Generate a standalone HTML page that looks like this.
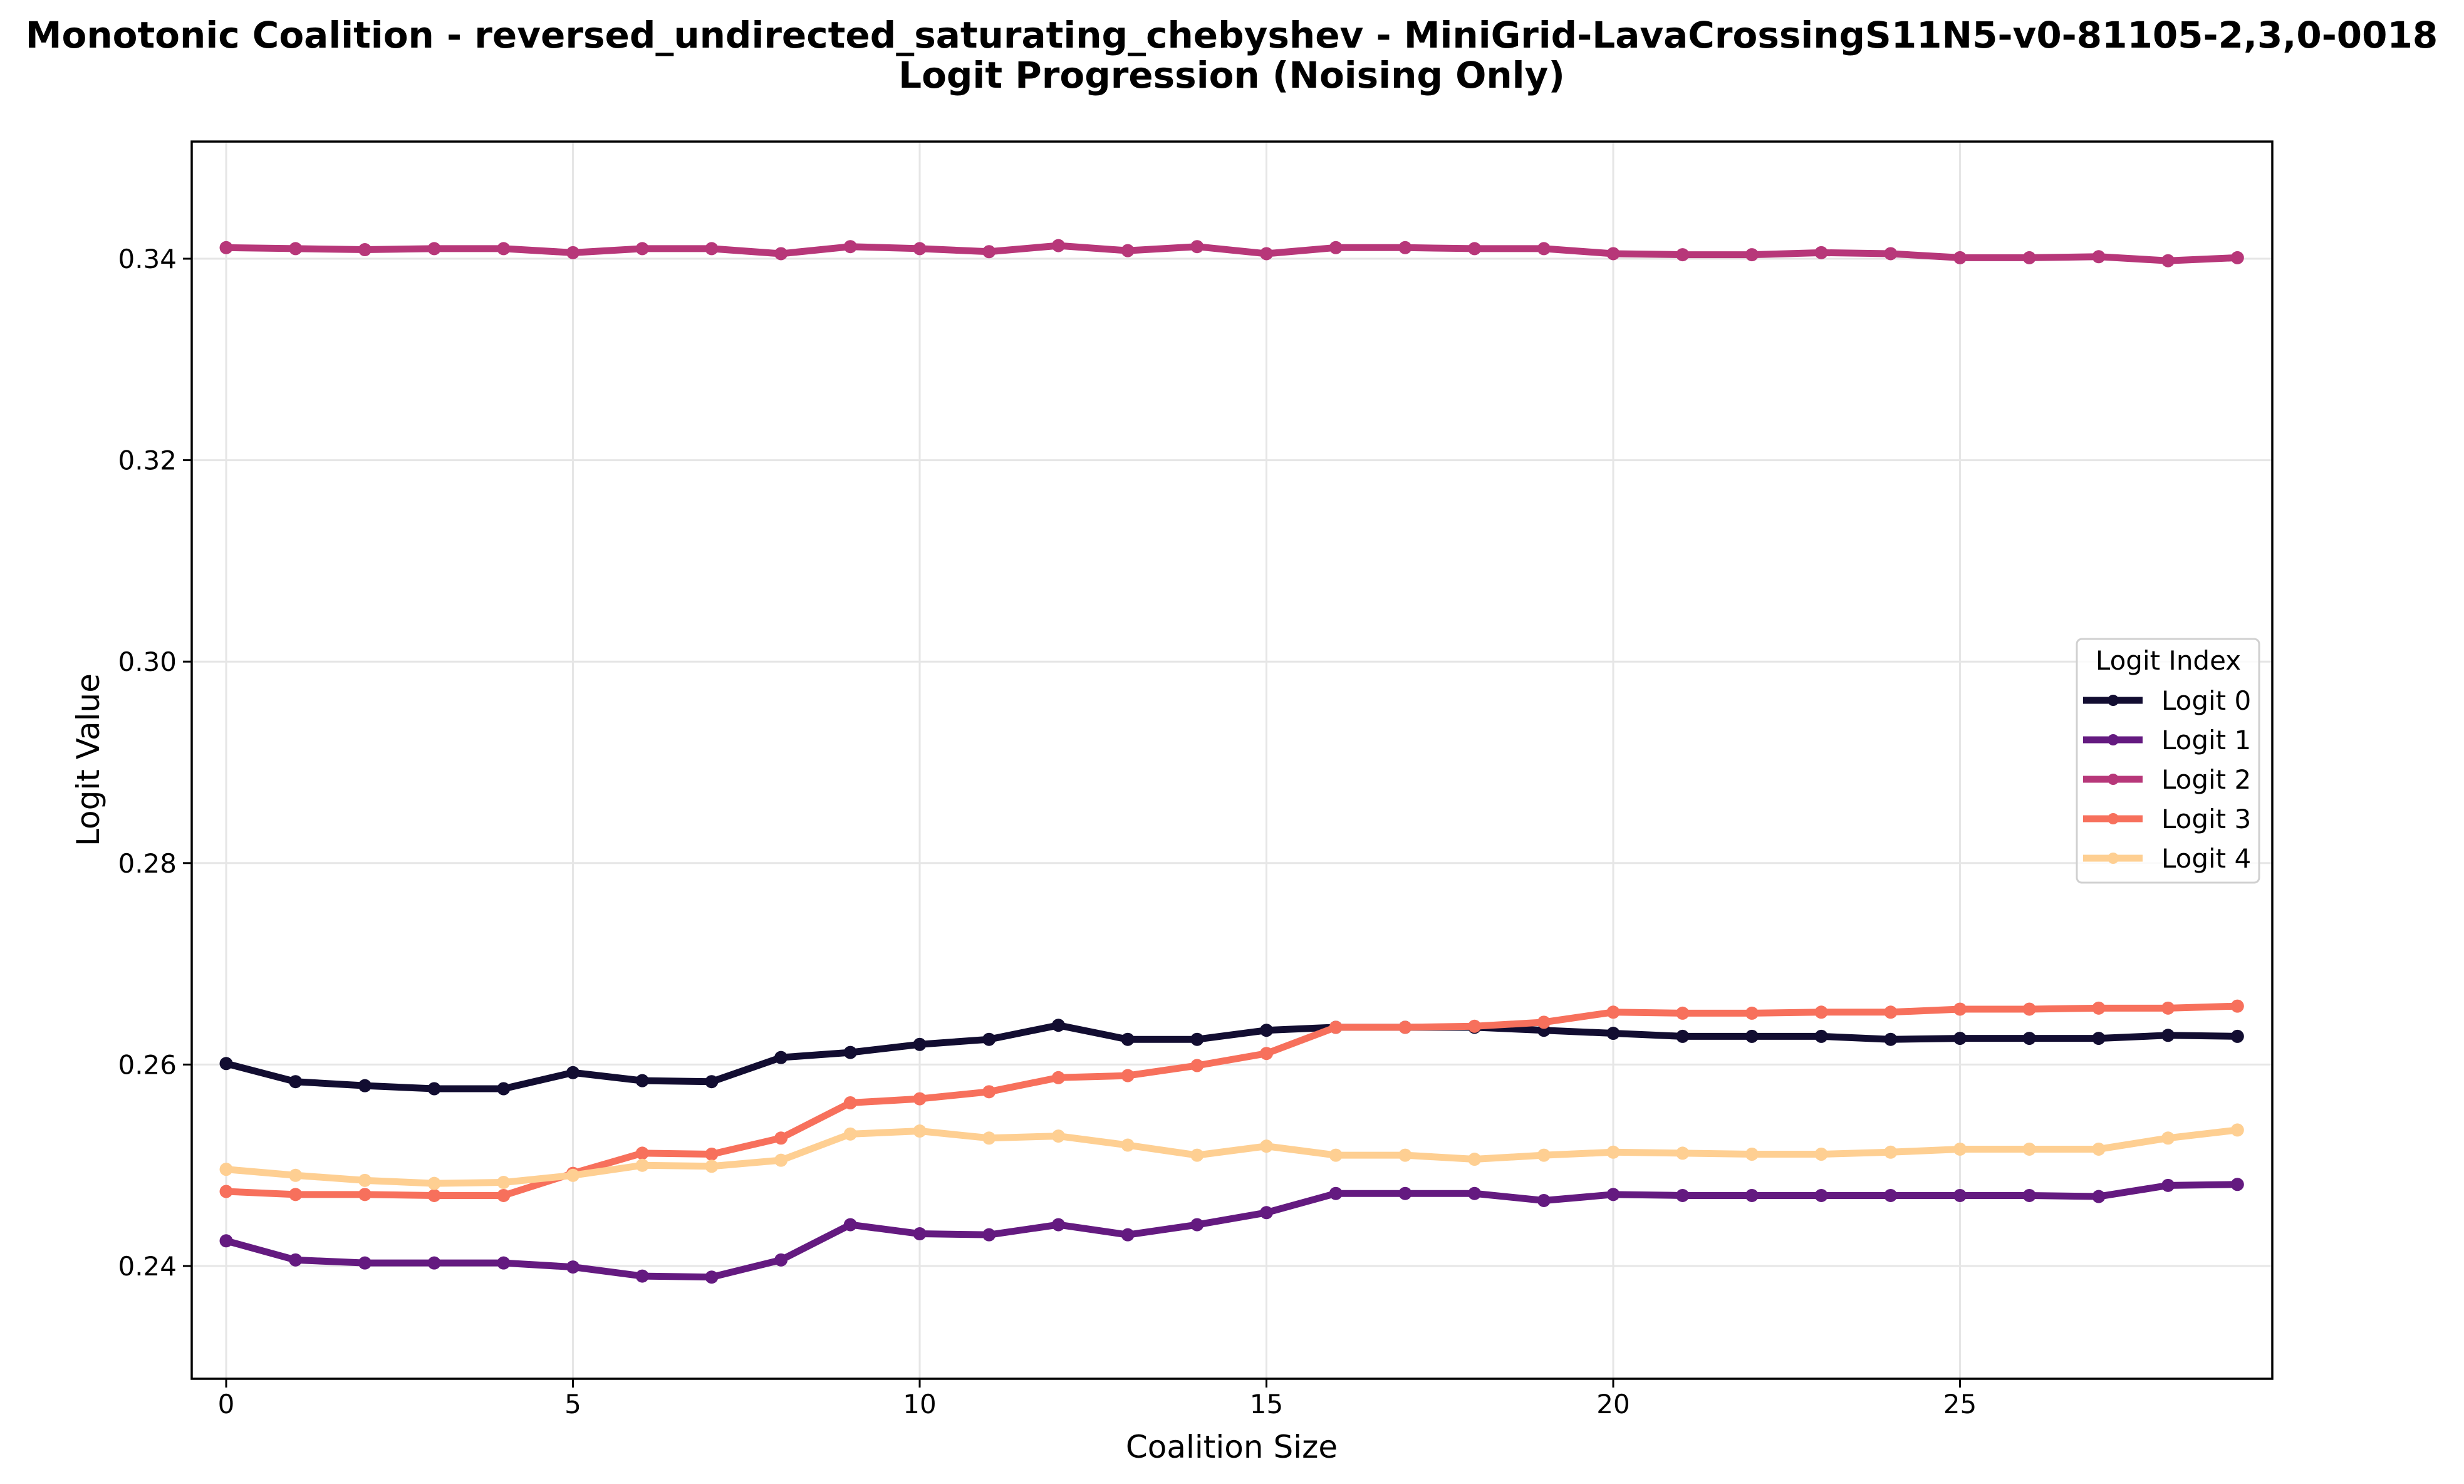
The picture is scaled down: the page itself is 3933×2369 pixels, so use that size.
<!DOCTYPE html>
<html><head><meta charset="utf-8"><style>
html,body{margin:0;padding:0;background:#fff;}
svg{display:block;font-family:"DejaVu Sans","Liberation Sans",sans-serif;}
</style></head><body>
<svg id="chart" width="3933" height="2369" viewBox="0 0 3933 2369" xmlns="http://www.w3.org/2000/svg">
<rect width="3933" height="2369" fill="#fff"/>
<text x="1966" y="76" text-anchor="middle" font-size="58" font-weight="bold">Monotonic Coalition - reversed_undirected_saturating_chebyshev - MiniGrid-LavaCrossingS11N5-v0-81105-2,3,0-0018</text>
<text x="1966" y="140" text-anchor="middle" font-size="58" font-weight="bold">Logit Progression (Noising Only)</text>
<g id="grid"></g>
<g id="axes"></g>
<g id="series"></g>
<rect x="306" y="226" width="3321" height="1975" fill="none" stroke="#000" stroke-width="3.5"/>
<text x="1966" y="2327" text-anchor="middle" font-size="50">Coalition Size</text>
<text transform="translate(158,1213) rotate(-90)" text-anchor="middle" font-size="50">Logit Value</text>
<g id="legend">
<rect x="3315" y="1020" width="291" height="389" rx="8" fill="#fff" fill-opacity="0.8" stroke="#d0d0d0" stroke-width="3"/>
<text x="3461" y="1069" text-anchor="middle" font-size="42">Logit Index</text>
</g>
</svg>
<script>
const categories = [0,1,2,3,4,5,6,7,8,9,10,11,12,13,14,15,16,17,18,19,20,21,22,23,24,25,26,27,28,29];
const logit0 = [0.2601,0.2583,0.2579,0.2576,0.2576,0.2592,0.2584,0.2583,0.2607,0.2612,0.2620,0.2625,0.2639,0.2625,0.2625,0.2634,0.2637,0.2637,0.2637,0.2634,0.2631,0.2628,0.2628,0.2628,0.2625,0.2626,0.2626,0.2626,0.2629,0.2628];
const logit1 = [0.2425,0.2406,0.2403,0.2403,0.2403,0.2399,0.2390,0.2389,0.2406,0.2441,0.2432,0.2431,0.2441,0.2431,0.2441,0.2453,0.2472,0.2472,0.2472,0.2465,0.2471,0.2470,0.2470,0.2470,0.2470,0.2470,0.2470,0.2469,0.2480,0.2481];
const logit2 = [0.3411,0.3410,0.3409,0.3410,0.3410,0.3406,0.3410,0.3410,0.3405,0.3412,0.3410,0.3407,0.3413,0.3408,0.3412,0.3405,0.3411,0.3411,0.3410,0.3410,0.3405,0.3404,0.3404,0.3406,0.3405,0.3401,0.3401,0.3402,0.3398,0.3401];
const logit3 = [0.2474,0.2471,0.2471,0.2470,0.2470,0.2492,0.2512,0.2511,0.2527,0.2562,0.2566,0.2573,0.2587,0.2589,0.2599,0.2611,0.2637,0.2637,0.2638,0.2642,0.2652,0.2651,0.2651,0.2652,0.2652,0.2655,0.2655,0.2656,0.2656,0.2658];
const logit4 = [0.2496,0.2490,0.2485,0.2482,0.2483,0.2490,0.2500,0.2499,0.2505,0.2531,0.2534,0.2527,0.2529,0.2520,0.2510,0.2519,0.2510,0.2510,0.2506,0.2510,0.2513,0.2512,0.2511,0.2511,0.2513,0.2516,0.2516,0.2516,0.2527,0.2535];
const seriesNames = ["Logit 0","Logit 1","Logit 2","Logit 3","Logit 4"];
const xTicks = [0,5,10,15,20,25];
const yTicks = [0.24,0.26,0.28,0.30,0.32,0.34];
const yTickLabels = ["0.24","0.26","0.28","0.30","0.32","0.34"];

const NS = "http://www.w3.org/2000/svg";
const colors = ["#120d31","#641a80","#b73779","#f7705c","#fecf92"];
const allSeries = [logit0, logit1, logit2, logit3, logit4];
function xs(v){ return 361 + v * 110.7; }
function ys(v){ return 413 + (0.34 - v) * 16080; }
function mk(tag, attrs, parent){ const e=document.createElementNS(NS,tag); for(const k in attrs) e.setAttribute(k, attrs[k]); parent.appendChild(e); return e; }

const grid = document.getElementById('grid');
const axes = document.getElementById('axes');
xTicks.forEach(t => {
  const g = mk('line',{x1:xs(t),x2:xs(t),y1:226,y2:2201,stroke:'#e6e6e6','stroke-width':3},grid);
  
  
  const tk = mk('line',{x1:xs(t),x2:xs(t),y1:2201,y2:2215,stroke:'#000','stroke-width':3},axes);
  
  
  const tx = mk('text',{x:xs(t),y:2256,'text-anchor':'middle','font-size':42},axes);
  tx.textContent = String(t);
  
  
});
yTicks.forEach((t,i) => {
  const g = mk('line',{x1:306,x2:3627,y1:ys(t),y2:ys(t),stroke:'#e6e6e6','stroke-width':3},grid);
  
  
  const tk = mk('line',{x1:292,x2:306,y1:ys(t),y2:ys(t),stroke:'#000','stroke-width':3},axes);
  
  
  const tx = mk('text',{x:282,y:ys(t)+15,'text-anchor':'end','font-size':42},axes);
  tx.textContent = yTickLabels[i];
  
  
});

const sg = document.getElementById('series');
allSeries.forEach((vals, si) => {
  const g = mk('g',{},sg);
  
  
  const pts = vals.map((v,i)=>xs(categories[i])+','+ys(v)).join(' ');
  const pl = mk('polyline',{points:pts,fill:'none',stroke:colors[si],'stroke-width':11,'stroke-linejoin':'round','stroke-linecap':'round'},g);
  
  
  vals.forEach((v,i)=>{
    const c = mk('circle',{cx:xs(categories[i]),cy:ys(v),r:10.5,fill:colors[si]},g);
    
    
  });
});

const lg = document.getElementById('legend');
seriesNames.forEach((n,i)=>{
  const y = 1118 + i*63;
  const e = mk('g',{},lg);
  
  
  mk('line',{x1:3325,x2:3420,y1:y,y2:y,stroke:colors[i],'stroke-width':11},e);
  mk('circle',{cx:3373,cy:y,r:9,fill:colors[i]},e);
  const t = mk('text',{x:3450,y:y+15,'font-size':42},e);
  t.textContent = n;
});
</script>
</body></html>
